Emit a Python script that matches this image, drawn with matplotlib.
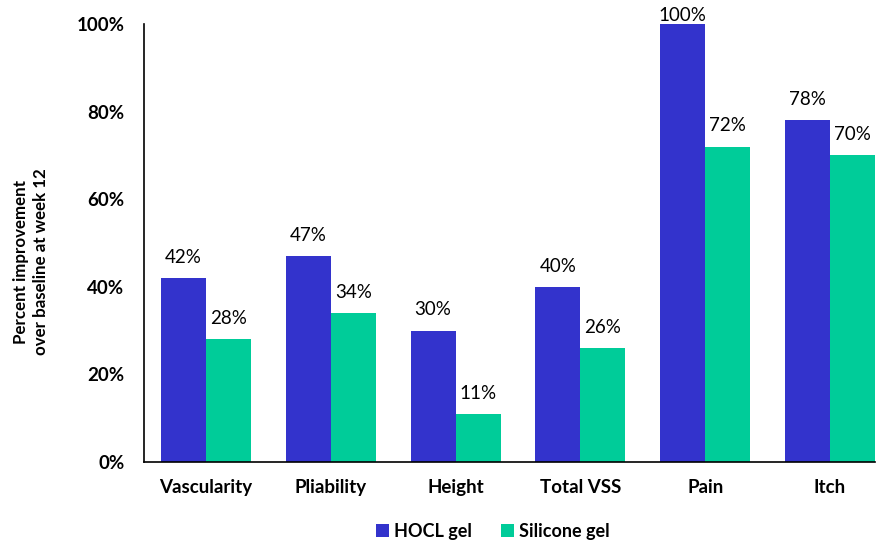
import numpy as np
import matplotlib.pyplot as plt

# Дані діаграми
categories = ['Vascularity', 'Pliability', 'Height', 'Total VSS', 'Pain', 'Itch']
hocl = [42, 47, 30, 40, 100, 78]
silicone = [28, 34, 11, 26, 72, 70]
series_names = ['HOCL gel', 'Silicone gel']
y_ticks = [0, 20, 40, 60, 80, 100]

plt.rcParams['font.family'] = ['Lato', 'DejaVu Sans']

fig = plt.figure(figsize=(8.8, 5.43), dpi=100)
ax = fig.add_axes([144 / 880, 1 - 462 / 543, (875 - 144) / 880, (462 - 24) / 543])

x = np.arange(len(categories))
w = 0.36
b1 = ax.bar(x - w / 2, hocl, w, color='#3333CC', label=series_names[0])
b2 = ax.bar(x + w / 2, silicone, w, color='#00CC99', label=series_names[1])

# Підписи значень над стовпцями
for bars, vals in ((b1, hocl), (b2, silicone)):
    for rect, v in zip(bars, vals):
        ax.text(rect.get_x() + rect.get_width() / 2, min(v + 2.8, 100), f'{v}%',
                ha='center', va='bottom', fontsize=13.5, clip_on=False)

ax.set_xlim(-0.496, 5.36)
ax.set_ylim(0, 100)
ax.set_yticks(y_ticks)
ax.set_yticklabels([f'{t}%' for t in y_ticks], fontweight='bold', fontsize=13.5)
ax.set_xticks(x)
ax.set_xticklabels(categories, fontweight='bold', fontsize=13.5)
ax.tick_params(axis='both', length=0)
ax.tick_params(axis='x', pad=12)
ax.tick_params(axis='y', pad=14)
for s in ('top', 'right'):
    ax.spines[s].set_visible(False)
ax.spines['left'].set_linewidth(1.2)
ax.spines['bottom'].set_linewidth(1.2)

fig.text(31 / 880, 1 - 262 / 543, 'Percent improvement\nover baseline at week 12',
         rotation=90, ha='center', va='center', fontweight='bold', fontsize=12.2,
         linespacing=1.3)

fig.legend(loc='center', bbox_to_anchor=(493 / 880, 1 - 531 / 543), ncol=2, frameon=False,
           prop={'weight': 'bold', 'size': 13}, handlelength=0.7, handleheight=0.7,
           handletextpad=0.3, columnspacing=1.6)

fig.savefig('out.png', dpi=100)
